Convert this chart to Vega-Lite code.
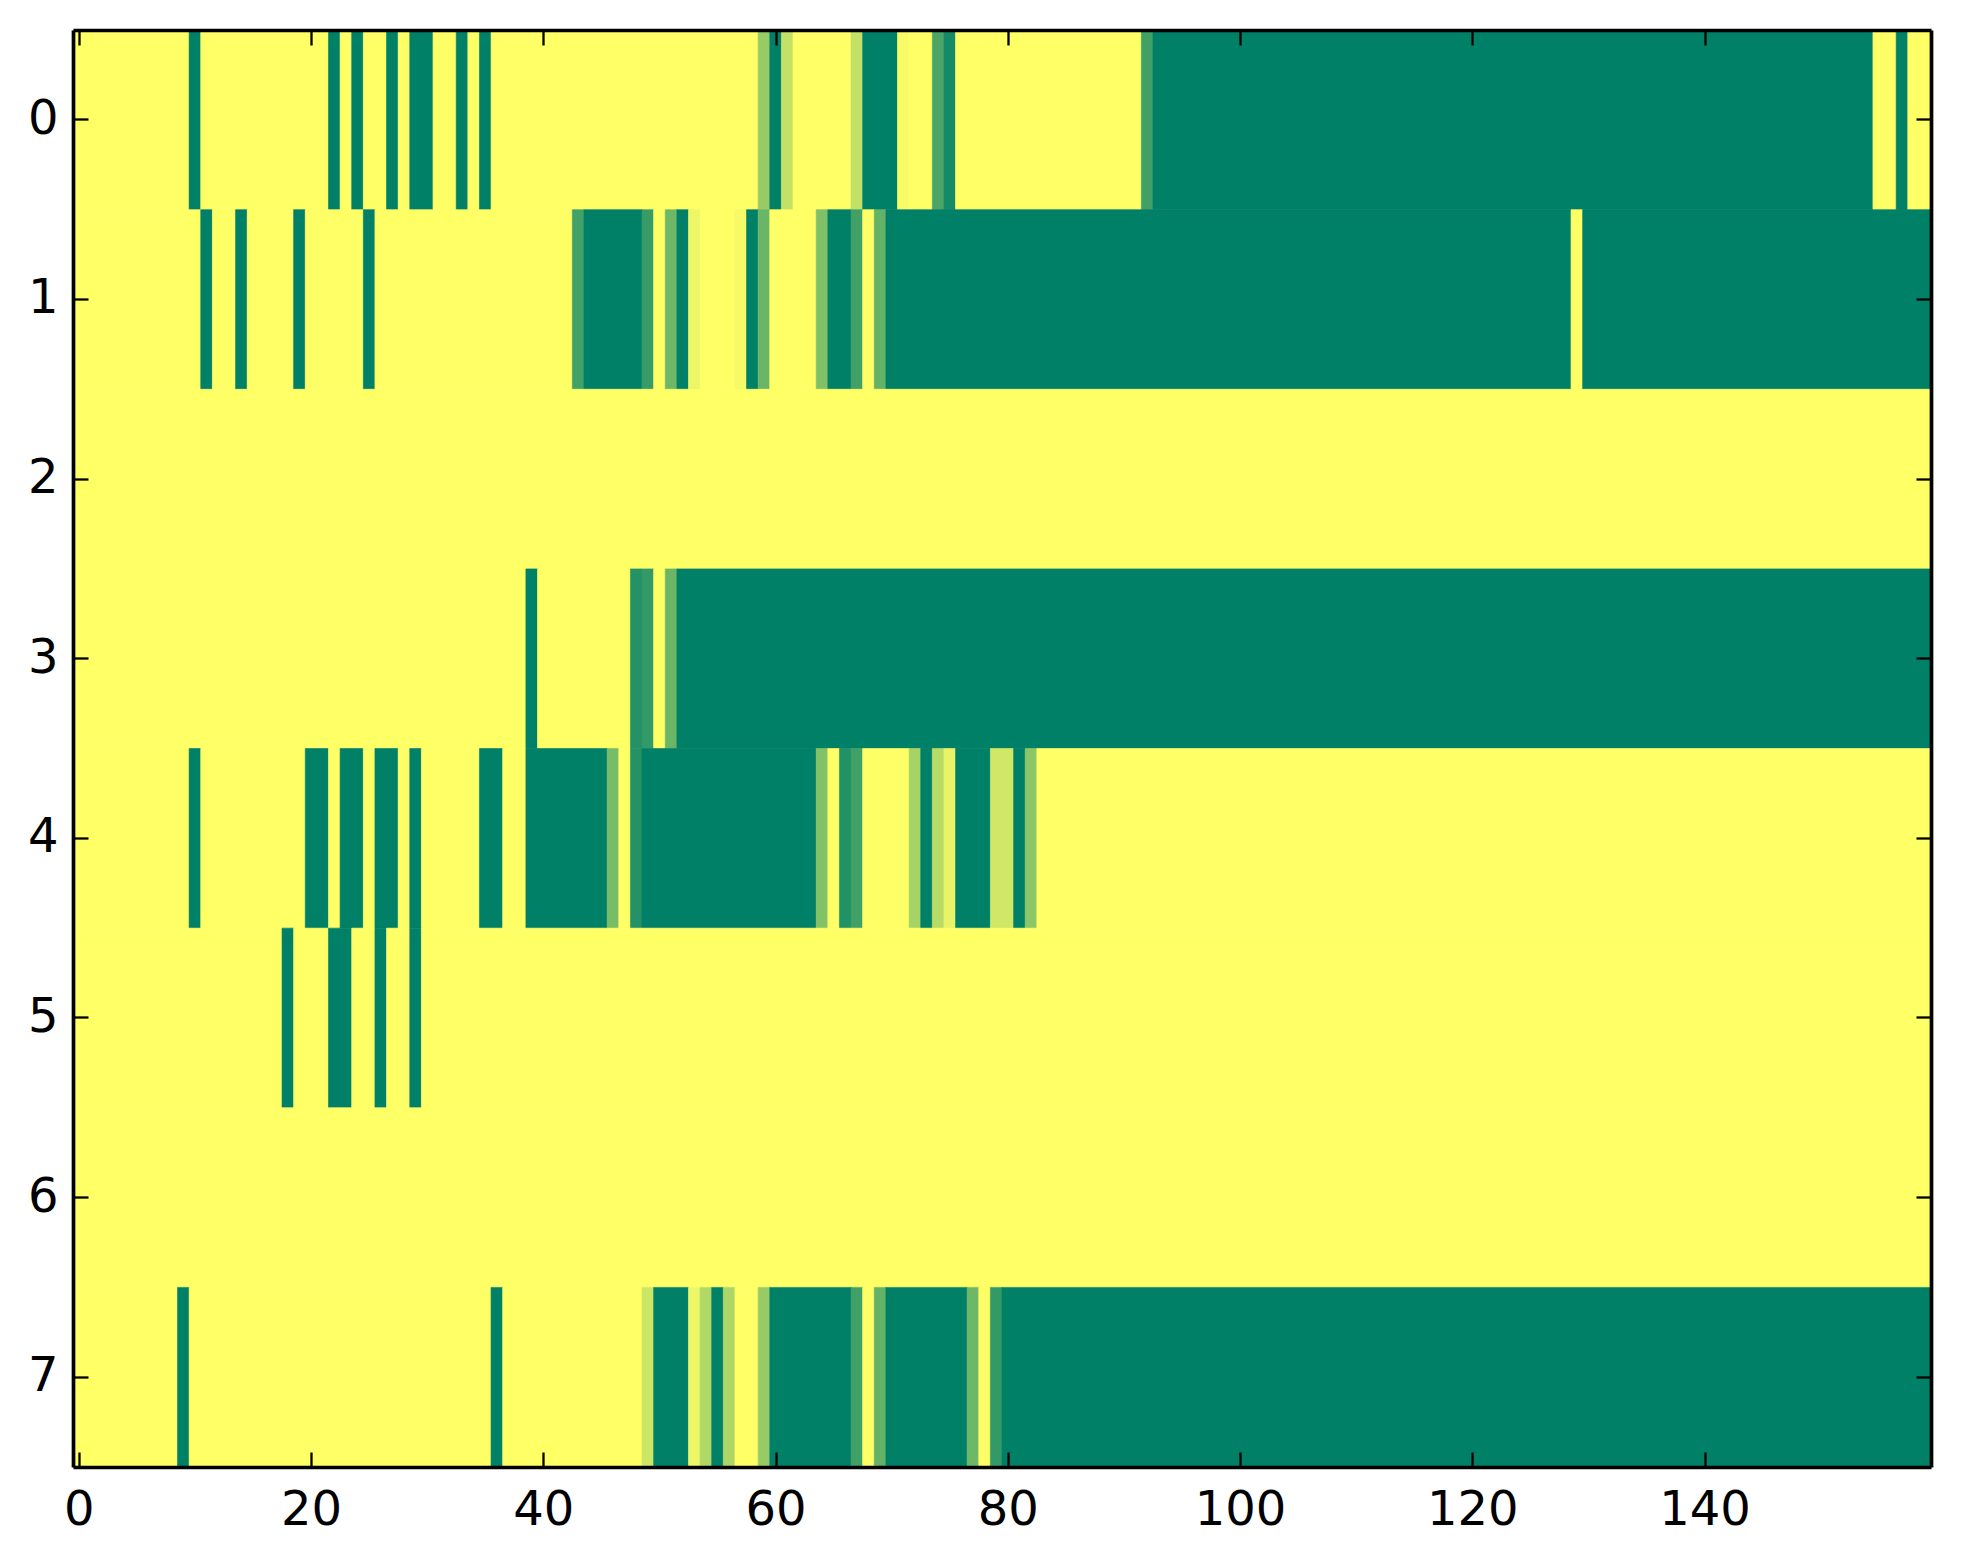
{
  "$schema": "https://vega.github.io/schema/vega-lite/v6.json",
  "width": 1858,
  "height": 1437,
  "autosize": "none",
  "padding": {"left": 73, "top": 30, "right": 32, "bottom": 97},
  "background": "white",
  "data": {
    "values": [
      {"row": 0, "from": 0, "to": 9, "value": 0},
      {"row": 0, "from": 10, "to": 10, "value": 1},
      {"row": 0, "from": 11, "to": 21, "value": 0},
      {"row": 0, "from": 22, "to": 22, "value": 1},
      {"row": 0, "from": 23, "to": 23, "value": 0},
      {"row": 0, "from": 24, "to": 24, "value": 1},
      {"row": 0, "from": 25, "to": 26, "value": 0},
      {"row": 0, "from": 27, "to": 27, "value": 1},
      {"row": 0, "from": 28, "to": 28, "value": 0},
      {"row": 0, "from": 29, "to": 30, "value": 1},
      {"row": 0, "from": 31, "to": 32, "value": 0},
      {"row": 0, "from": 33, "to": 33, "value": 1},
      {"row": 0, "from": 34, "to": 34, "value": 0},
      {"row": 0, "from": 35, "to": 35, "value": 1},
      {"row": 0, "from": 36, "to": 58, "value": 0},
      {"row": 0, "from": 59, "to": 59, "value": 0.41},
      {"row": 0, "from": 60, "to": 60, "value": 1},
      {"row": 0, "from": 61, "to": 61, "value": 0.24},
      {"row": 0, "from": 62, "to": 66, "value": 0},
      {"row": 0, "from": 67, "to": 67, "value": 0.24},
      {"row": 0, "from": 68, "to": 70, "value": 1},
      {"row": 0, "from": 71, "to": 71, "value": 0.03},
      {"row": 0, "from": 72, "to": 73, "value": 0},
      {"row": 0, "from": 74, "to": 74, "value": 0.71},
      {"row": 0, "from": 75, "to": 75, "value": 0.92},
      {"row": 0, "from": 76, "to": 91, "value": 0},
      {"row": 0, "from": 92, "to": 92, "value": 0.75},
      {"row": 0, "from": 93, "to": 154, "value": 1},
      {"row": 0, "from": 155, "to": 156, "value": 0},
      {"row": 0, "from": 157, "to": 157, "value": 1},
      {"row": 0, "from": 158, "to": 159, "value": 0},

      {"row": 1, "from": 0, "to": 10, "value": 0},
      {"row": 1, "from": 11, "to": 11, "value": 1},
      {"row": 1, "from": 12, "to": 13, "value": 0},
      {"row": 1, "from": 14, "to": 14, "value": 1},
      {"row": 1, "from": 15, "to": 18, "value": 0},
      {"row": 1, "from": 19, "to": 19, "value": 1},
      {"row": 1, "from": 20, "to": 24, "value": 0},
      {"row": 1, "from": 25, "to": 25, "value": 1},
      {"row": 1, "from": 26, "to": 42, "value": 0},
      {"row": 1, "from": 43, "to": 43, "value": 0.74},
      {"row": 1, "from": 44, "to": 48, "value": 1},
      {"row": 1, "from": 49, "to": 49, "value": 0.79},
      {"row": 1, "from": 50, "to": 50, "value": 0},
      {"row": 1, "from": 51, "to": 51, "value": 0.57},
      {"row": 1, "from": 52, "to": 52, "value": 1},
      {"row": 1, "from": 53, "to": 53, "value": 0.07},
      {"row": 1, "from": 54, "to": 56, "value": 0},
      {"row": 1, "from": 57, "to": 57, "value": 0.04},
      {"row": 1, "from": 58, "to": 58, "value": 1},
      {"row": 1, "from": 59, "to": 59, "value": 0.58},
      {"row": 1, "from": 60, "to": 63, "value": 0},
      {"row": 1, "from": 64, "to": 64, "value": 0.5},
      {"row": 1, "from": 65, "to": 66, "value": 1},
      {"row": 1, "from": 67, "to": 67, "value": 0.75},
      {"row": 1, "from": 68, "to": 68, "value": 0},
      {"row": 1, "from": 69, "to": 69, "value": 0.61},
      {"row": 1, "from": 70, "to": 128, "value": 1},
      {"row": 1, "from": 129, "to": 129, "value": 0},
      {"row": 1, "from": 130, "to": 159, "value": 1},

      {"row": 2, "from": 0, "to": 159, "value": 0},

      {"row": 3, "from": 0, "to": 38, "value": 0},
      {"row": 3, "from": 39, "to": 39, "value": 1},
      {"row": 3, "from": 40, "to": 47, "value": 0},
      {"row": 3, "from": 48, "to": 48, "value": 0.86},
      {"row": 3, "from": 49, "to": 49, "value": 0.8},
      {"row": 3, "from": 50, "to": 50, "value": 0},
      {"row": 3, "from": 51, "to": 51, "value": 0.58},
      {"row": 3, "from": 52, "to": 159, "value": 1},

      {"row": 4, "from": 0, "to": 9, "value": 0},
      {"row": 4, "from": 10, "to": 10, "value": 1},
      {"row": 4, "from": 11, "to": 19, "value": 0},
      {"row": 4, "from": 20, "to": 21, "value": 1},
      {"row": 4, "from": 22, "to": 22, "value": 0},
      {"row": 4, "from": 23, "to": 24, "value": 1},
      {"row": 4, "from": 25, "to": 25, "value": 0},
      {"row": 4, "from": 26, "to": 27, "value": 1},
      {"row": 4, "from": 28, "to": 28, "value": 0},
      {"row": 4, "from": 29, "to": 29, "value": 1},
      {"row": 4, "from": 30, "to": 34, "value": 0},
      {"row": 4, "from": 35, "to": 36, "value": 1},
      {"row": 4, "from": 37, "to": 38, "value": 0},
      {"row": 4, "from": 39, "to": 45, "value": 1},
      {"row": 4, "from": 46, "to": 46, "value": 0.53},
      {"row": 4, "from": 47, "to": 47, "value": 0},
      {"row": 4, "from": 48, "to": 48, "value": 0.86},
      {"row": 4, "from": 49, "to": 63, "value": 1},
      {"row": 4, "from": 64, "to": 64, "value": 0.49},
      {"row": 4, "from": 65, "to": 65, "value": 0},
      {"row": 4, "from": 66, "to": 66, "value": 0.87},
      {"row": 4, "from": 67, "to": 67, "value": 0.75},
      {"row": 4, "from": 68, "to": 71, "value": 0},
      {"row": 4, "from": 72, "to": 72, "value": 0.35},
      {"row": 4, "from": 73, "to": 73, "value": 1},
      {"row": 4, "from": 74, "to": 74, "value": 0.28},
      {"row": 4, "from": 75, "to": 75, "value": 0.09},
      {"row": 4, "from": 76, "to": 78, "value": 1},
      {"row": 4, "from": 79, "to": 80, "value": 0.18},
      {"row": 4, "from": 81, "to": 81, "value": 1},
      {"row": 4, "from": 82, "to": 82, "value": 0.45},
      {"row": 4, "from": 83, "to": 159, "value": 0},

      {"row": 5, "from": 0, "to": 17, "value": 0},
      {"row": 5, "from": 18, "to": 18, "value": 1},
      {"row": 5, "from": 19, "to": 21, "value": 0},
      {"row": 5, "from": 22, "to": 23, "value": 1},
      {"row": 5, "from": 24, "to": 25, "value": 0},
      {"row": 5, "from": 26, "to": 26, "value": 1},
      {"row": 5, "from": 27, "to": 28, "value": 0},
      {"row": 5, "from": 29, "to": 29, "value": 1},
      {"row": 5, "from": 30, "to": 159, "value": 0},

      {"row": 6, "from": 0, "to": 159, "value": 0},

      {"row": 7, "from": 0, "to": 8, "value": 0},
      {"row": 7, "from": 9, "to": 9, "value": 1},
      {"row": 7, "from": 10, "to": 35, "value": 0},
      {"row": 7, "from": 36, "to": 36, "value": 1},
      {"row": 7, "from": 37, "to": 48, "value": 0},
      {"row": 7, "from": 49, "to": 49, "value": 0.2},
      {"row": 7, "from": 50, "to": 52, "value": 1},
      {"row": 7, "from": 53, "to": 53, "value": 0.07},
      {"row": 7, "from": 54, "to": 54, "value": 0.31},
      {"row": 7, "from": 55, "to": 55, "value": 1},
      {"row": 7, "from": 56, "to": 56, "value": 0.32},
      {"row": 7, "from": 57, "to": 58, "value": 0},
      {"row": 7, "from": 59, "to": 59, "value": 0.41},
      {"row": 7, "from": 60, "to": 66, "value": 1},
      {"row": 7, "from": 67, "to": 67, "value": 0.75},
      {"row": 7, "from": 68, "to": 68, "value": 0},
      {"row": 7, "from": 69, "to": 69, "value": 0.61},
      {"row": 7, "from": 70, "to": 76, "value": 1},
      {"row": 7, "from": 77, "to": 77, "value": 0.57},
      {"row": 7, "from": 78, "to": 78, "value": 0},
      {"row": 7, "from": 79, "to": 79, "value": 0.8},
      {"row": 7, "from": 80, "to": 159, "value": 1}
    ]
  },
  "layer": [
    {
      "mark": {"type": "rect", "xOffset": -5.806, "x2Offset": 5.806, "strokeWidth": 0.6},
      "encoding": {
        "x": {
          "field": "from",
          "type": "quantitative",
          "scale": {"domain": [-0.5, 159.5], "nice": false, "zero": false},
          "axis": {"orient": "bottom", "values": [0, 20, 40, 60, 80, 100, 120, 140], "format": "d", "labelPadding": 34, "zindex": 1}
        },
        "x2": {"field": "to"},
        "y": {
          "field": "row",
          "type": "ordinal",
          "scale": {"domain": [0, 1, 2, 3, 4, 5, 6, 7], "paddingInner": 0, "paddingOuter": 0},
          "axis": {"orient": "left", "labelPadding": 30, "zindex": 1}
        },
        "color": {
          "field": "value",
          "type": "quantitative",
          "scale": {"domain": [0, 1], "range": ["#ffff66", "#008066"], "interpolate": "rgb"},
          "legend": null
        },
        "stroke": {
          "field": "value",
          "type": "quantitative",
          "scale": {"domain": [0, 1], "range": ["#ffff66", "#008066"], "interpolate": "rgb"},
          "legend": null
        }
      }
    },
    {
      "mark": {"type": "rect", "opacity": 0},
      "encoding": {
        "x": {
          "field": "from",
          "type": "quantitative",
          "axis": {"orient": "top", "values": [0, 20, 40, 60, 80, 100, 120, 140], "labels": false, "zindex": 1}
        },
        "y": {
          "field": "row",
          "type": "ordinal",
          "axis": {"orient": "right", "labels": false, "zindex": 1}
        }
      }
    }
  ],
  "resolve": {"axis": {"x": "independent", "y": "independent"}},
  "config": {
    "view": {"stroke": null},
    "axis": {
      "title": null,
      "grid": false,
      "domain": true,
      "domainColor": "black",
      "domainWidth": 3.7,
      "ticks": true,
      "tickColor": "black",
      "tickWidth": 2.3,
      "tickSize": -15,
      "labelFont": "DejaVu Sans",
      "labelFontSize": 48,
      "labelColor": "black",
      "labelAngle": 0
    }
  }
}
